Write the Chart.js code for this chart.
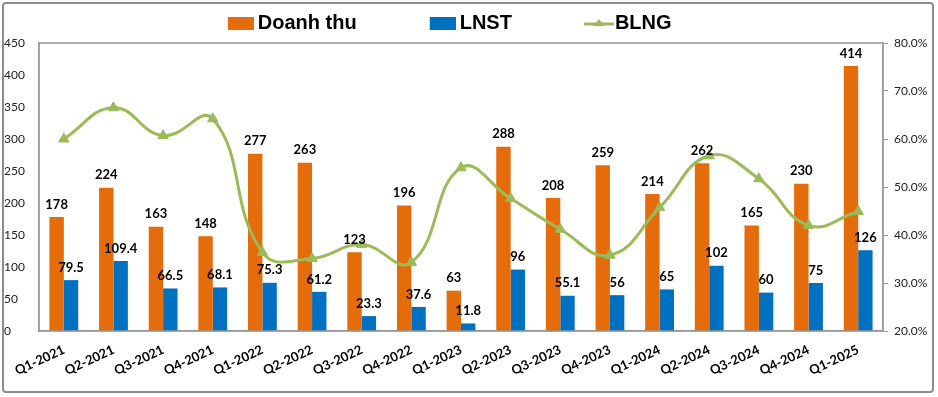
<!DOCTYPE html>
<html>
<head>
<meta charset="utf-8">
<script src="https://cdn.jsdelivr.net/npm/chart.js@4"></script>
<style>
  body { margin: 0; background: #fff; }
  #wrap { width: 938px; height: 397px; }
</style>
</head>
<body>
<div id="wrap"><canvas id="myChart"></canvas></div>
<script>
var quarters = ['Q1-2021', 'Q2-2021', 'Q3-2021', 'Q4-2021', 'Q1-2022', 'Q2-2022', 'Q3-2022', 'Q4-2022', 'Q1-2023',
                'Q2-2023', 'Q3-2023', 'Q4-2023', 'Q1-2024', 'Q2-2024', 'Q3-2024', 'Q4-2024', 'Q1-2025'];
var doanhThu = [178, 224, 163, 148, 277, 263, 123, 196, 63, 288, 208, 259, 214, 262, 165, 230, 414];
var lnst = [79.5, 109.4, 66.5, 68.1, 75.3, 61.2, 23.3, 37.6, 11.8, 96, 55.1, 56, 65, 102, 60, 75, 126];
// BLNG (%)
var blng = [60.0, 66.5, 60.7, 64.2, 36.4, 35.1, 38.0, 34.3, 54.0, 47.6, 41.2, 35.8, 45.7, 56.5, 51.7, 42.0, 44.9];
var leftTicks = [0, 50, 100, 150, 200, 250, 300, 350, 400, 450];
var rightTicks = [20, 30, 40, 50, 60, 70, 80];

var ORANGE = '#E46C0A';
var BLUE = '#0070C0';
var GREEN = '#9BBB59';
var FONT = 'Lato, "Liberation Sans", sans-serif';

// legend symbols (content sits at the right end of the image)
function legendRect(color) {
  var c = document.createElement('canvas');
  c.width = 95; c.height = 14;
  var g = c.getContext('2d');
  g.fillStyle = color;
  g.fillRect(69, 1, 26, 13);
  return c;
}
function legendLine() {
  var c = document.createElement('canvas');
  c.width = 101; c.height = 14;
  var g = c.getContext('2d');
  g.strokeStyle = GREEN;
  g.lineWidth = 3;
  g.beginPath(); g.moveTo(71, 8); g.lineTo(101, 8); g.stroke();
  g.fillStyle = GREEN;
  g.beginPath(); g.moveTo(86, 3); g.lineTo(92, 10); g.lineTo(80, 10); g.closePath(); g.fill();
  return c;
}

var frame = {
  id: 'frame',
  beforeDraw: function (chart) {
    var c = chart.ctx;
    c.save();
    c.fillStyle = '#fff';
    c.fillRect(0, 0, chart.width, chart.height);
    c.restore();
  },
  afterDraw: function (chart) {
    var c = chart.ctx, a = chart.chartArea;
    c.save();
    c.strokeStyle = '#999';
    c.lineWidth = 1.5;
    c.strokeRect(a.left, a.top, a.right - a.left, a.bottom - a.top);
    c.strokeStyle = '#8c8c8c';
    c.lineWidth = 2;
    c.beginPath();
    c.roundRect(3, 3, 930, 389, 3);
    c.stroke();
    c.restore();
  }
};

var barLabels = {
  id: 'barLabels',
  afterDatasetsDraw: function (chart) {
    var c = chart.ctx;
    c.save();
    c.font = 'bold 13px ' + FONT;
    c.fillStyle = '#000';
    c.textAlign = 'center';
    c.textBaseline = 'bottom';
    [0, 1].forEach(function (i) {
      var ds = chart.data.datasets[i];
      chart.getDatasetMeta(i).data.forEach(function (el, j) {
        c.fillText(String(ds.data[j]), el.x, el.y - 6);
      });
    });
    c.restore();
  }
};

var ctx = document.getElementById('myChart');

var myChart = new Chart(ctx, {
  data: {
    labels: quarters,
    datasets: [{
      type: 'bar',
      label: 'Doanh thu',
      data: doanhThu,
      backgroundColor: ORANGE,
      yAxisID: 'y',
      order: 2
    }, {
      type: 'bar',
      label: 'LNST',
      data: lnst,
      backgroundColor: BLUE,
      yAxisID: 'y',
      order: 2
    }, {
      type: 'line',
      label: 'BLNG',
      data: blng,
      borderColor: GREEN,
      backgroundColor: GREEN,
      borderWidth: 3,
      tension: 0.45,
      pointStyle: 'triangle',
      pointRadius: 6,
      pointBorderWidth: 1,
      yAxisID: 'y1',
      order: 1
    }]
  },
  options: {
    responsive: true,
    maintainAspectRatio: false,
    animation: false,
    layout: { padding: { left: 4, right: 0, top: 3, bottom: 5 } },
    datasets: {
      bar: { categoryPercentage: 0.58, barPercentage: 1.0 }
    },
    plugins: {
      tooltip: { enabled: false },
      legend: {
        position: 'top',
        align: 'center',
        labels: {
          usePointStyle: true,
          pointStyleWidth: 83,
          boxHeight: 14,
          padding: 10,
          color: '#000',
          font: { family: '"Liberation Sans", Arial, sans-serif', size: 20, weight: 'bold' },
          generateLabels: function (chart) {
            var styles = [legendRect(ORANGE), legendRect(BLUE), legendLine()];
            return chart.data.datasets.map(function (ds, i) {
              return {
                text: i === 2 ? ds.label + '                   ' : ds.label,
                pointStyle: styles[i],
                fillStyle: ds.backgroundColor,
                strokeStyle: ds.borderColor,
                lineWidth: 0,
                hidden: false,
                datasetIndex: i,
                fontColor: '#000'
              };
            });
          }
        }
      }
    },
    scales: {
      x: {
        grid: { display: false },
        border: { display: true, color: '#999', width: 1.5 },
        ticks: {
          minRotation: 25,
          maxRotation: 25,
          color: '#000',
          font: { family: FONT, size: 13, weight: 'bold' }
        },
        afterFit: function (s) { s.height = 61; }
      },
      y: {
        position: 'left',
        min: 0,
        max: 450,
        afterBuildTicks: function (s) { s.ticks = leftTicks.map(function (v) { return { value: v }; }); },
        grid: { display: false },
        border: { display: true, color: '#999', width: 1.5 },
        ticks: {
          crossAlign: 'far',
          color: '#222',
          font: { family: FONT, size: 12 }
        },
        afterFit: function (s) { s.width = 35; }
      },
      y1: {
        position: 'right',
        min: 20,
        max: 80,
        afterBuildTicks: function (s) { s.ticks = rightTicks.map(function (v) { return { value: v }; }); },
        grid: { display: true, drawOnChartArea: false, color: '#999', tickLength: 5 },
        border: { display: true, color: '#999', width: 1.5 },
        ticks: {
          padding: 6,
          color: '#222',
          font: { family: FONT, size: 12 },
          callback: function (v) { return v.toFixed(1) + '%'; }
        },
        afterFit: function (s) { s.width = 55; }
      }
    }
  },
  plugins: [frame, barLabels]
});
</script>
</body>
</html>
